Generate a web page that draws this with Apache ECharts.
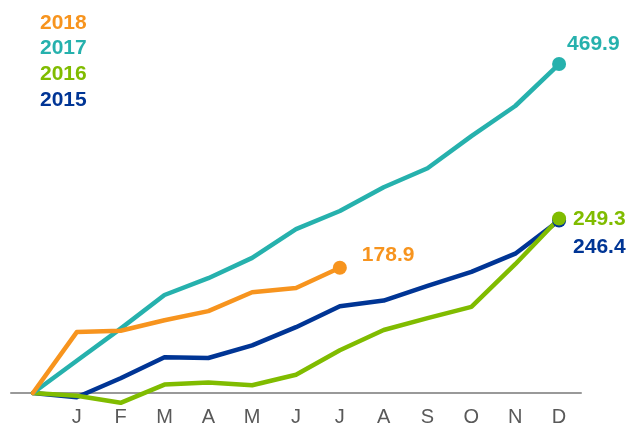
<!DOCTYPE html>
<html>
<head>
<meta charset="utf-8">
<script src="https://cdn.jsdelivr.net/npm/echarts@6/dist/echarts.min.js"></script>
<style>
html,body{margin:0;padding:0;background:#fff;}
#chart{width:626px;height:427px;}
</style>
</head>
<body>
<div id="chart"></div>
<script>
var categories = ['', 'J', 'F', 'M', 'A', 'M', 'J', 'J', 'A', 'S', 'O', 'N', 'D'];
var seriesNames = ['2015', '2016', '2017', '2018'];
var values2015 = [0, -6, 21, 51, 50, 68, 94, 124, 132, 153, 173, 199, 246.4];
var values2016 = [0, -4, -14, 12, 15, 11, 26, 61, 90, 107, 123, 184, 249.3];
var values2017 = [0, 46, 92, 140, 164, 193, 234, 260, 294, 321, 367, 410, 469.9];
var values2018 = [0, 87, 89, 104, 117, 144, 150, 178.9];
var legendOrder = ['2018', '2017', '2016', '2015'];

var colors = { '2015': '#003595', '2016': '#80BC00', '2017': '#26B1AD', '2018': '#F7941E' };
var endLabelOffsets = { '2015': [7, 27], '2016': [7, 1], '2017': [1, -20], '2018': [15, -13] };
var allValues = { '2015': values2015, '2016': values2016, '2017': values2017, '2018': values2018 };
var FONT = 'Liberation Sans, Arial, sans-serif';

function buildData(name) {
  var vals = allValues[name];
  return vals.map(function (v, i) {
    if (i !== vals.length - 1) return v;
    return {
      value: v,
      symbolSize: 14,
      label: {
        show: true,
        position: 'right',
        distance: 0,
        offset: endLabelOffsets[name],
        formatter: function (p) { return p.value.toFixed(1); },
        color: colors[name],
        fontFamily: FONT,
        fontWeight: 'bold',
        fontSize: 21
      }
    };
  });
}

var series = seriesNames.map(function (name) {
  return {
    name: name,
    type: 'line',
    data: buildData(name),
    symbol: 'circle',
    symbolSize: 0,
    showSymbol: true,
    showAllSymbol: true,
    clip: false,
    lineStyle: { color: colors[name], width: 4.5, cap: 'round', join: 'round' },
    itemStyle: { color: colors[name] },
    emphasis: { disabled: true },
    animation: false
  };
});

var chart = echarts.init(document.getElementById('chart'));
chart.setOption({
  backgroundColor: '#ffffff',
  animation: false,
  legend: {
    orient: 'vertical',
    left: 30,
    top: 7.5,
    icon: 'none',
    itemWidth: 0,
    itemHeight: 20,
    itemGap: 4.6,
    selectedMode: false,
    data: legendOrder.map(function (n) {
      return {
        name: n,
        textStyle: {
          color: colors[n],
          fontFamily: FONT,
          fontWeight: 'bold',
          fontSize: 21,
          lineHeight: 20
        }
      };
    })
  },
  grid: { left: 11, right: 45, top: 43, bottom: 34, containLabel: false, outerBoundsMode: 'none' },
  xAxis: {
    type: 'category',
    data: categories,
    boundaryGap: true,
    axisLine: { onZero: true, lineStyle: { color: '#999999', width: 2 } },
    axisTick: { show: false },
    axisLabel: {
      color: '#595959',
      fontFamily: FONT,
      fontSize: 20,
      margin: 14,
      interval: 0
    },
    splitLine: { show: false }
  },
  yAxis: {
    type: 'value',
    min: 0,
    max: 500,
    show: false,
    splitLine: { show: false }
  },
  series: series
});
</script>
</body>
</html>
